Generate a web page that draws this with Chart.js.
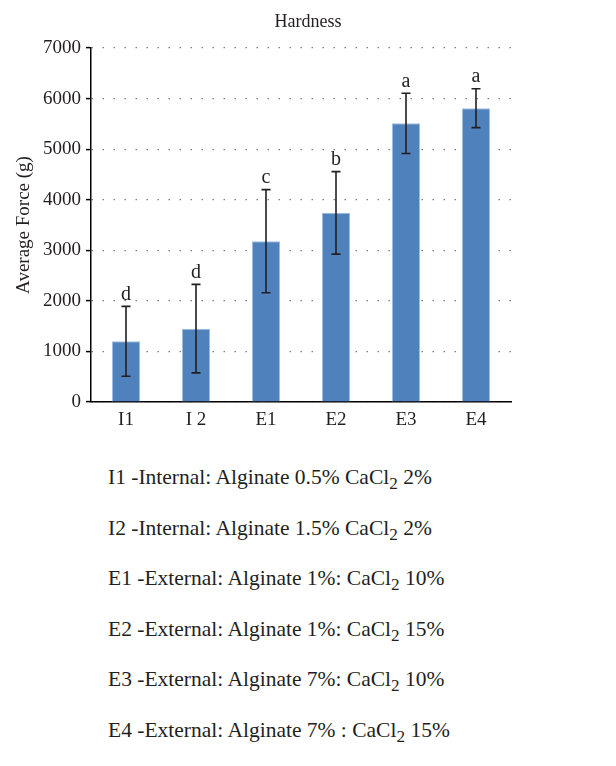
<!DOCTYPE html>
<html>
<head>
<meta charset="utf-8">
<script src="https://cdn.jsdelivr.net/npm/chart.js@4/dist/chart.umd.min.js"></script>
<style>
  body { margin: 0; background: #fff; }
  #wrap { position: relative; width: 616px; height: 766px; }
  #notes { position: absolute; left: 108px; top: 463px; font-family: "Liberation Serif", serif; font-size: 21.5px; color: #231f20; }
  #notes div { height: 50.6px; line-height: 28px; white-space: nowrap; }
  sub { font-size: 0.8em; vertical-align: -0.3em; line-height: 0; }
</style>
</head>
<body>
<div id="wrap">
  <canvas id="chart" width="616" height="445"></canvas>
  <div id="notes">
    <div>I1 -Internal: Alginate 0.5% CaCl<sub>2</sub> 2%</div>
    <div>I2 -Internal: Alginate 1.5% CaCl<sub>2</sub> 2%</div>
    <div>E1 -External: Alginate 1%: CaCl<sub>2</sub> 10%</div>
    <div>E2 -External: Alginate 1%: CaCl<sub>2</sub> 15%</div>
    <div>E3 -External: Alginate 7%: CaCl<sub>2</sub> 10%</div>
    <div>E4 -External: Alginate 7% : CaCl<sub>2</sub> 15%</div>
  </div>
</div>
<script>
// Chart data
var labels = ['I1', 'I 2', 'E1', 'E2', 'E3', 'E4'];
var hardness = [1200, 1450, 3180, 3740, 5510, 5810];
var errors = [690, 875, 1020, 815, 595, 385];
var letters = ['d', 'd', 'c', 'b', 'a', 'a'];
var chartTitle = 'Hardness';

var serif = '"Liberation Serif", serif';
var ink = '#231f20';

// Error bars, significance letters and the title
var errorBars = {
  id: 'errorBars',
  afterDatasetsDraw: function (chart) {
    var ctx = chart.ctx;
    var y = chart.scales.y;
    var meta = chart.getDatasetMeta(0);
    ctx.save();
    ctx.strokeStyle = ink;
    ctx.lineWidth = 1.6;
    ctx.fillStyle = ink;
    ctx.font = '20px ' + serif;
    ctx.textAlign = 'center';
    ctx.textBaseline = 'bottom';
    meta.data.forEach(function (bar, i) {
      var top = y.getPixelForValue(hardness[i] + errors[i]);
      var bot = y.getPixelForValue(hardness[i] - errors[i]);
      var x = bar.x;
      ctx.beginPath();
      ctx.moveTo(x, top); ctx.lineTo(x, bot);
      ctx.moveTo(x - 4.5, top); ctx.lineTo(x + 4.5, top);
      ctx.moveTo(x - 4.5, bot); ctx.lineTo(x + 4.5, bot);
      ctx.stroke();
      ctx.fillText(letters[i], x, top - 2);
    });

    // title sits a bit right of the plot centre, like the original
    var area = chart.chartArea;
    ctx.font = '18px ' + serif;
    ctx.textBaseline = 'middle';
    ctx.fillText(chartTitle, (area.left + area.right) / 2 + 7, 22);
    ctx.restore();
  }
};

var config = {
  type: 'bar',
  data: {
    labels: labels,
    datasets: [{
      data: hardness,
      backgroundColor: '#4f81bd',
      borderColor: '#9fbde0',
      borderWidth: 1,
      categoryPercentage: 1,
      barPercentage: 0.4
    }]
  },
  options: {
    responsive: false,
    animation: false,
    devicePixelRatio: 1,
    layout: { padding: { left: 0, right: 105, top: 48, bottom: 0 } },
    plugins: {
      legend: { display: false },
      tooltip: { enabled: false },
      title: { display: false }
    },
    scales: {
      x: {
        grid: { display: false, drawTicks: false },
        border: { color: '#000', width: 1.5 },
        ticks: { color: ink, font: { family: serif, size: 19 }, padding: 7 },
        afterFit: function (s) { s.height = 43; }
      },
      y: {
        min: 0,
        max: 7000,
        ticks: {
          stepSize: 1000,
          color: ink,
          font: { family: serif, size: 19 },
          padding: 5,
          callback: function (v) { return String(v); }
        },
        grid: {
          color: '#7f7f7f',
          lineWidth: 1.2,
          tickColor: '#000',
          tickWidth: 1.5,
          tickLength: 5,
          tickBorderDash: []
        },
        // in v4 border.dash styles the grid lines (dotted)
        border: { color: '#000', width: 1.5, dash: [1.5, 9.5] },
        title: {
          display: true,
          text: 'Average Force (g)',
          color: ink,
          font: { family: serif, size: 19 },
          padding: { top: 13, bottom: 0 }
        },
        afterFit: function (s) { s.width = 91; }
      }
    }
  },
  plugins: [errorBars]
};

var myChart = new Chart(document.getElementById('chart'), config);
</script>
</body>
</html>
